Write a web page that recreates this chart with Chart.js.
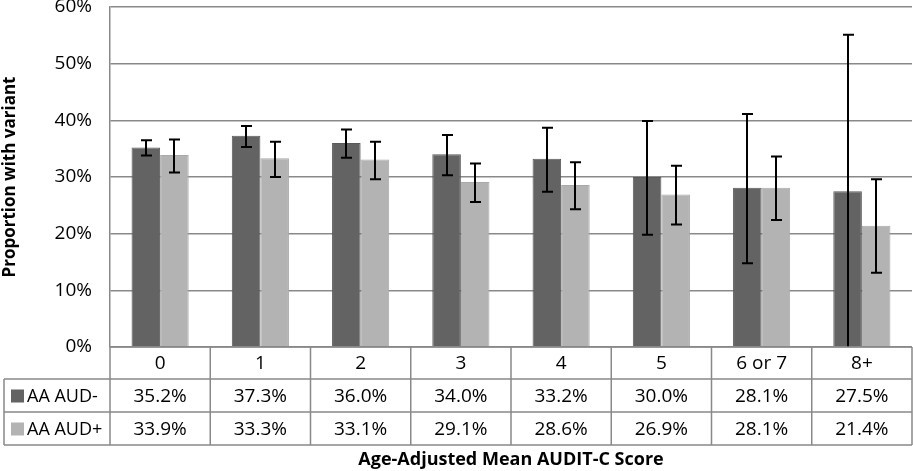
<!DOCTYPE html>
<html>
<head>
<meta charset="utf-8">
<script src="https://cdn.jsdelivr.net/npm/chart.js@4.4.1/dist/chart.umd.min.js"></script>
<style>
  html, body { margin: 0; padding: 0; background: #fff; }
  #wrap { width: 913px; height: 471px; }
</style>
</head>
<body>
<div id="wrap"><canvas id="chart" width="913" height="471"></canvas></div>
<script>
// chart data
const categories = ['0', '1', '2', '3', '4', '5', '6 or 7', '8+'];
const seriesNames = ['AA AUD-', 'AA AUD+'];
const audNeg = [35.2, 37.3, 36.0, 34.0, 33.2, 30.0, 28.1, 27.5];
const audPos = [33.9, 33.3, 33.1, 29.1, 28.6, 26.9, 28.1, 21.4];
// error bar ends
const audNegLow = [33.8, 35.3, 33.4, 30.3, 27.4, 19.8, 14.8, 0];
const audNegHigh = [36.5, 39.0, 38.4, 37.4, 38.7, 39.9, 41.1, 55.1];
const audPosLow = [30.8, 30.0, 29.6, 25.6, 24.3, 21.6, 22.4, 13.1];
const audPosHigh = [36.6, 36.2, 36.2, 32.4, 32.6, 32.0, 33.6, 29.6];
const yTicks = [0, 10, 20, 30, 40, 50, 60];

const darkGray = '#636363';
const lightGray = '#b3b3b3';
const lineGray = '#898989';
const fontFamily = "'Open Sans', sans-serif";

Chart.defaults.font.family = fontFamily;
Chart.defaults.color = '#000';

// error bars for both series
const errorBars = {
  id: 'errorBars',
  afterDatasetsDraw(chart) {
    const ctx = chart.ctx;
    const y = chart.scales.y;
    const area = chart.chartArea;
    const ranges = [[audNegLow, audNegHigh], [audPosLow, audPosHigh]];
    ctx.save();
    ctx.beginPath();
    ctx.rect(area.left, area.top - 2, area.right - area.left, area.bottom - area.top + 2);
    ctx.clip();
    ctx.strokeStyle = '#000';
    ctx.lineWidth = 2;
    chart.data.datasets.forEach((ds, di) => {
      const meta = chart.getDatasetMeta(di);
      meta.data.forEach((bar, i) => {
        const x = Math.round(bar.x);
        const lo = y.getPixelForValue(ranges[di][0][i]);
        const hi = y.getPixelForValue(ranges[di][1][i]);
        ctx.beginPath();
        ctx.moveTo(x, lo); ctx.lineTo(x, hi);
        ctx.moveTo(x - 5, hi); ctx.lineTo(x + 6, hi);
        if (ranges[di][0][i] > 0) {
          ctx.moveTo(x - 5, lo); ctx.lineTo(x + 6, lo);
        }
        ctx.stroke();
      });
    });
    ctx.restore();
  }
};

// data table under the plot, like Excel's
const dataTable = {
  id: 'dataTable',
  afterDraw(chart) {
    const ctx = chart.ctx;
    const area = chart.chartArea;
    const n = categories.length;
    const w = (area.right - area.left) / n;
    const rows = [area.bottom, area.bottom + 32, area.bottom + 65, area.bottom + 98];
    const leftEdge = 4;
    ctx.save();
    ctx.strokeStyle = lineGray;
    ctx.lineWidth = 1.5;
    ctx.beginPath();
    // horizontal lines
    ctx.moveTo(area.left, rows[0]); ctx.lineTo(area.right, rows[0]);
    for (let r = 1; r < rows.length; r++) {
      ctx.moveTo(leftEdge, rows[r]); ctx.lineTo(area.right, rows[r]);
    }
    // vertical lines
    for (let i = 0; i <= n; i++) {
      const x = area.left + i * w;
      ctx.moveTo(x, rows[0]); ctx.lineTo(x, rows[3]);
    }
    ctx.moveTo(leftEdge, rows[1]); ctx.lineTo(leftEdge, rows[3]);
    ctx.stroke();

    ctx.fillStyle = '#000';
    ctx.font = '19px ' + fontFamily;
    ctx.textAlign = 'center';
    ctx.textBaseline = 'middle';
    categories.forEach((c, i) => {
      const cx = area.left + (i + 0.5) * w;
      ctx.fillText(c, cx, (rows[0] + rows[1]) / 2 + 1);
      ctx.fillText(audNeg[i].toFixed(1) + '%', cx, (rows[1] + rows[2]) / 2 + 1);
      ctx.fillText(audPos[i].toFixed(1) + '%', cx, (rows[2] + rows[3]) / 2 + 1);
    });

    // legend keys and series names
    const keyColors = [darkGray, lightGray];
    ctx.textAlign = 'left';
    ctx.font = '18px ' + fontFamily;
    seriesNames.forEach((name, s) => {
      const cy = (rows[s + 1] + rows[s + 2]) / 2;
      ctx.fillStyle = keyColors[s];
      ctx.fillRect(11, cy - 6, 13, 13);
      ctx.fillStyle = '#000';
      ctx.fillText(name, 27, cy + 1);
    });

    // x axis title
    ctx.font = 'bold 18px ' + fontFamily;
    ctx.textAlign = 'center';
    ctx.fillText('Age-Adjusted Mean AUDIT-C Score', (area.left + area.right) / 2, 460);
    ctx.restore();
  }
};

new Chart(document.getElementById('chart'), {
  type: 'bar',
  data: {
    labels: categories,
    datasets: [{
      label: seriesNames[0],
      data: audNeg,
      backgroundColor: darkGray,
      borderColor: '#5a5a5a',
      borderWidth: 1
    }, {
      label: seriesNames[1],
      data: audPos,
      backgroundColor: lightGray,
      borderColor: '#a9a9a9',
      borderWidth: 1
    }]
  },
  options: {
    responsive: false,
    animation: false,
    categoryPercentage: 0.57,
    barPercentage: 1.0,
    layout: {
      padding: { top: 7, right: 1, bottom: 124, left: 0 }
    },
    plugins: {
      legend: { display: false },
      tooltip: { enabled: false }
    },
    scales: {
      x: {
        display: false
      },
      y: {
        min: 0,
        max: 60,
        afterBuildTicks(scale) {
          scale.ticks = yTicks.map(v => ({ value: v }));
        },
        afterFit(scale) {
          scale.width = 110;
          scale.paddingTop = 0;
          scale.paddingBottom = 0;
        },
        ticks: {
          padding: 18,
          font: { size: 19 },
          callback: v => v + '%'
        },
        grid: {
          color: lineGray,
          lineWidth: 1.5,
          drawTicks: false
        },
        border: { color: lineGray, width: 1.5 },
        title: {
          display: true,
          text: 'Proportion with variant',
          font: { size: 17, weight: 'bold' },
          padding: { top: 0, bottom: 0 }
        }
      }
    }
  },
  plugins: [errorBars, dataTable]
});
</script>
</body>
</html>
